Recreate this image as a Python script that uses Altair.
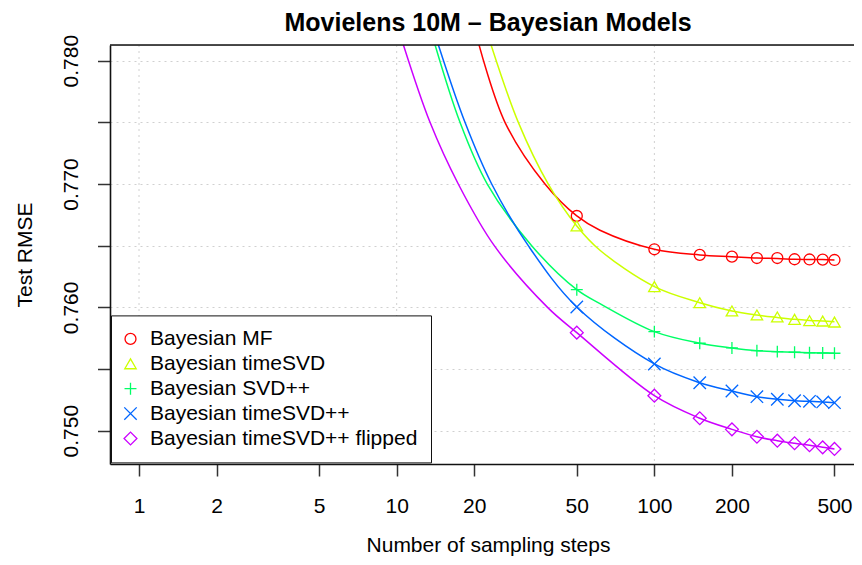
import altair as alt
import pandas as pd

# ---------------- data ----------------
title_text = "Movielens 10M – Bayesian Models"
series = ["Bayesian MF", "Bayesian timeSVD", "Bayesian SVD++",
          "Bayesian timeSVD++", "Bayesian timeSVD++ flipped"]
colors = ["#FF0000", "#CCFF00", "#00FF66", "#0066FF", "#CC00FF"]
shapes = ["circle", "triangle-up", "M-1,0L1,0M0,-1L0,1",
          "M-1,-1L1,1M1,-1L-1,1", "diamond"]
sizes = [120, 165, 165, 140, 215]

steps = [50, 100, 150, 200, 250, 300, 350, 400, 450, 500]
mf_pts = [0.76741, 0.76471, 0.76425, 0.76411, 0.76400, 0.76400, 0.76390, 0.76388, 0.76387, 0.76384]
tsvd_pts = [0.76660, 0.76168, 0.76038, 0.75971, 0.75938, 0.75922, 0.75903, 0.75892, 0.75889, 0.75881]
svdpp_pts = [0.76143, 0.75803, 0.75709, 0.75671, 0.75649, 0.75641, 0.75636, 0.75632, 0.75630, 0.75628]
tsvdpp_pts = [0.76003, 0.75541, 0.75389, 0.75322, 0.75276, 0.75255, 0.75243, 0.75238, 0.75233, 0.75227]
flip_pts = [0.75795, 0.75284, 0.75101, 0.75011, 0.74951, 0.74919, 0.74898, 0.74882, 0.74865, 0.74852]

# fitted curves
mf_cx = [20.86, 26.32, 37.63, 50, 61.5, 100, 150, 200, 250, 300, 350, 400, 450, 500]
mf_cy = [0.7813, 0.7750, 0.7700, 0.76741, 0.76625, 0.76471, 0.76425, 0.76411, 0.76400, 0.76396, 0.76390, 0.76388, 0.76387, 0.76384]
tsvd_cx = [23.22, 29.65, 38.75, 50, 61.5, 100, 150, 200, 250, 300, 350, 400, 450, 500]
tsvd_cy = [0.7813, 0.7750, 0.7700, 0.76660, 0.76463, 0.76168, 0.76038, 0.75971, 0.75938, 0.75918, 0.75903, 0.75894, 0.75889, 0.75884]
svdpp_cx = [14.08, 17.61, 22.47, 33.41, 50, 61.5, 100, 150, 200, 250, 300, 350, 400, 450, 500]
svdpp_cy = [0.7813, 0.7750, 0.7700, 0.7650, 0.76143, 0.76030, 0.75803, 0.75709, 0.75671, 0.75649, 0.75641, 0.75636, 0.75632, 0.75630, 0.75628]
tsvdpp_cx = [14.5, 18.41, 23.37, 32.41, 50, 100, 150, 200, 250, 300, 350, 400, 450, 500]
tsvdpp_cy = [0.7813, 0.7750, 0.7700, 0.7650, 0.76003, 0.75541, 0.75389, 0.75322, 0.75276, 0.75255, 0.75243, 0.75238, 0.75233, 0.75227]
flip_cx = [10.61, 13.47, 17.34, 23.92, 38.5, 50, 100, 150, 200, 250, 300, 350, 400, 450, 500]
flip_cy = [0.7813, 0.7750, 0.7700, 0.7650, 0.7600, 0.75795, 0.75284, 0.75101, 0.75011, 0.74951, 0.74919, 0.74898, 0.74882, 0.74865, 0.74852]

x_ticks = [1, 2, 5, 10, 20, 50, 100, 200, 500]
x_grid = [1, 10, 100]
y_ticks = [0.750, 0.755, 0.760, 0.765, 0.770, 0.775, 0.780]

# ---------------- tables ----------------
pts_list = [mf_pts, tsvd_pts, svdpp_pts, tsvdpp_pts, flip_pts]
curves = [(mf_cx, mf_cy), (tsvd_cx, tsvd_cy), (svdpp_cx, svdpp_cy),
          (tsvdpp_cx, tsvdpp_cy), (flip_cx, flip_cy)]

pts_rows = []
for name, vals in zip(series, pts_list):
    for s, v in zip(steps, vals):
        pts_rows.append({"series": name, "x": s, "y": v})
pts_df = pd.DataFrame(pts_rows)

curve_rows = []
for name, (cx, cy) in zip(series, curves):
    for a, b in zip(cx, cy):
        curve_rows.append({"series": name, "x": a, "y": b})
curve_df = pd.DataFrame(curve_rows)

grid_df = pd.DataFrame({"x": x_grid})
title_df = pd.DataFrame({"t": [title_text]})

# ---------------- chart ----------------
FONT = "Liberation Sans"
W, H = 744, 419

x_scale = alt.Scale(type="log", domain=[0.7717, 595.3], nice=False)
y_scale = alt.Scale(domain=[0.7473, 0.78127], nice=False, zero=False)

x_axis = alt.Axis(
    values=x_ticks, format="d", grid=False, labelFlush=False, labelOverlap=False,
    tickSize=12, tickWidth=1.5, tickColor="#333333",
    domainColor="#111111", domainWidth=1.6,
    labelFont=FONT, labelFontSize=21, labelColor="black", labelPadding=19,
    title="Number of sampling steps", titleFont=FONT, titleFontSize=21,
    titleFontWeight="normal", titleColor="black", titleBaseline="alphabetic",
    titleAlign="center", titleX=378, titleY=87,
)
y_axis = alt.Axis(
    values=y_ticks, grid=True, gridColor="#d0d0d0", gridDash=[2, 4], gridWidth=1,
    labelExpr="(round(datum.value*1000) % 10 == 0) ? format(datum.value, '.3f') : ''",
    labelAngle=-90, labelAlign="center", labelBaseline="alphabetic",
    labelFlush=False, labelOverlap=False,
    tickSize=12.5, tickWidth=1.5, tickColor="#333333",
    domainColor="#111111", domainWidth=1.6,
    labelFont=FONT, labelFontSize=21, labelColor="black", labelPadding=20,
    title="Test RMSE", titleFont=FONT, titleFontSize=21, titleFontWeight="normal",
    titleColor="black", titleBaseline="alphabetic", titleAlign="center",
    titleAngle=-90, titleX=-79, titleY=H / 2,
)

X = alt.X("x:Q", scale=x_scale, axis=x_axis)
Y = alt.Y("y:Q", scale=y_scale, axis=y_axis)

vgrid = alt.Chart(grid_df).mark_rule(
    color="#d0d0d0", strokeDash=[2, 4], strokeWidth=1
).encode(x=alt.X("x:Q", scale=x_scale, axis=x_axis))

top_line = alt.Chart(title_df).mark_rule(color="#111111", strokeWidth=1.6).encode(
    x=alt.value(0), x2=alt.value(W), y=alt.value(0)
)

title_mark = alt.Chart(title_df).mark_text(
    font=FONT, fontSize=25, fontWeight="bold", color="black",
    align="center", baseline="alphabetic"
).encode(text="t:N", x=alt.value(378), y=alt.value(-14))

lines = alt.Chart(curve_df).mark_line(
    strokeWidth=1.5, clip=True, interpolate="catmull-rom"
).encode(
    x=X, y=Y,
    color=alt.Color("series:N", scale=alt.Scale(domain=series, range=colors), legend=None),
)

leg = alt.Legend(
    title=None, orient="none", legendX=1, legendY=270.4,
    fillColor="white", strokeColor="#111111", padding=13,
    labelFont=FONT, labelFontSize=21, labelColor="black", labelOffset=9,
    rowPadding=2.9, symbolStrokeWidth=1.3, symbolOffset=-4, labelLimit=400,
)

points = alt.Chart(pts_df).mark_point(
    filled=False, strokeWidth=1.3, clip=True, opacity=1
).encode(
    x=X, y=Y,
    color=alt.Color("series:N", scale=alt.Scale(domain=series, range=colors), legend=leg),
    shape=alt.Shape("series:N", scale=alt.Scale(domain=series, range=shapes), legend=leg),
    size=alt.Size("series:N", scale=alt.Scale(domain=series, range=sizes), legend=leg),
)

chart = alt.layer(vgrid, lines, points, top_line, title_mark).resolve_scale(
    color="independent", shape="independent", size="independent"
).properties(
    width=W, height=H,
    autosize=alt.AutoSizeParams(type="none"),
    padding={"left": 102, "top": 37, "right": 0, "bottom": 93},
).configure_view(stroke=None).configure(background="white")

chart.save("out.html", embed_options={"renderer": "svg", "actions": False})
